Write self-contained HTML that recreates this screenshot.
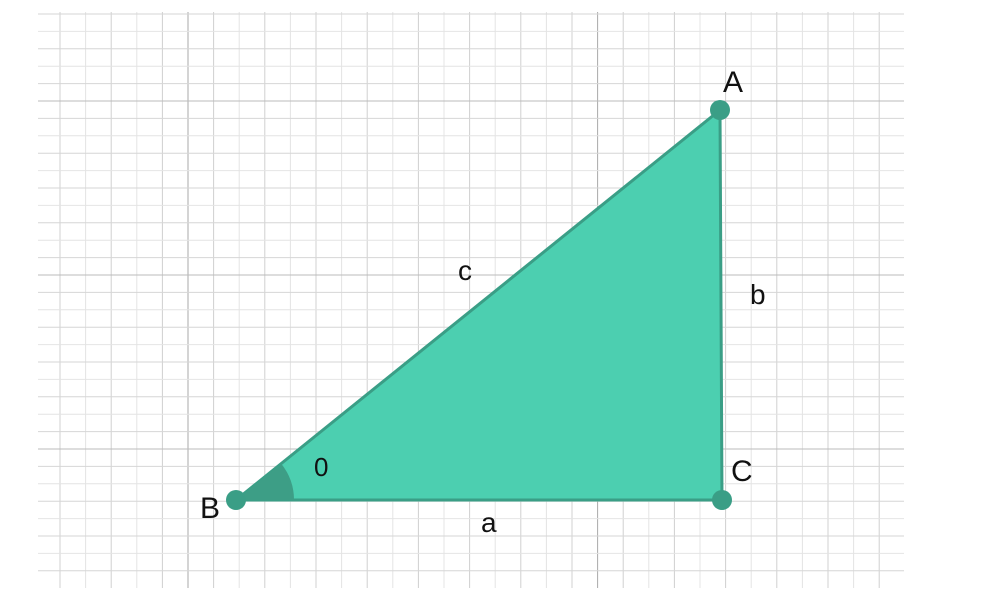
<!DOCTYPE html>
<html><head><meta charset="utf-8"><style>
body{margin:0;background:#fff;}
svg{display:block;font-family:"Liberation Sans",sans-serif;}
</style></head><body>
<svg id="chart" width="981" height="599" viewBox="0 0 981 599">
<g id="grid"></g>
<g id="shape"></g>
</svg>
<script>
const vertexNames = ["A","B","C"];
const vertexX = [720, 236, 722];
const vertexY = [110, 500, 500];
const sideNames = ["a","b","c"];
const NS="http://www.w3.org/2000/svg";
function mk(t,a,p){const e=document.createElementNS(NS,t);for(const k in a)e.setAttribute(k,a[k]);p.appendChild(e);return e;}
const grid=document.getElementById('grid');
for(let i=0;i<=33;i++){const x=60+i*25.6;if(x>904)break;
 const l=mk('line',{x1:x,y1:12,x2:x,y2:588,stroke:(i%16==5)?'#aaa':(i%2?'#e4e4e4':'#d0d0d0'),'stroke-width':1},grid);
 
 }
for(let j=0;j<=33;j++){const y=14+j*17.4;if(y>588)break;
 const l=mk('line',{x1:38,y1:y,x2:904,y2:y,stroke:(j%10==5)?'#bbb':(j%2?'#e4e4e4':'#d6d6d6'),'stroke-width':1},grid);
 
 }
const g=document.getElementById('shape');
const [Ax,Bx,Cx]=vertexX,[Ay,By,Cy]=vertexY;
const poly=mk('polygon',{points:`${Ax},${Ay} ${Bx},${By} ${Cx},${Cy}`,fill:'#4ccfb0',stroke:'#3a9e86','stroke-width':3,'stroke-linejoin':'round'},g);


// angle wedge at B
const r=58,ang=Math.atan2(Ay-By,Ax-Bx);
const w=mk('path',{d:`M${Bx},${By} L${Bx+r},${By} A${r},${r} 0 0 0 ${Bx+r*Math.cos(ang)},${By+r*Math.sin(ang)} Z`,fill:'#3d9e86'},g);


const lbl=[[vertexNames[0],Ax+3,Ay-18],[vertexNames[1],Bx-36,By+18],[vertexNames[2],Cx+9,Cy-19]];
for(let i=0;i<3;i++){
 const c=mk('circle',{cx:vertexX[i],cy:vertexY[i],r:10,fill:'#3a9e86'},g);
 
 
 const t=mk('text',{x:lbl[i][1],y:lbl[i][2],'font-size':30,fill:'#111'},g);t.textContent=lbl[i][0];
 
 
}
const sl=[[sideNames[0],(Bx+Cx)/2+2,532],[sideNames[1],750,304],[sideNames[2],458,280]];
for(const s of sl){const t=mk('text',{x:s[1],y:s[2],'font-size':28,fill:'#111'},g);t.textContent=s[0];
 
 }
const th=mk('text',{x:314,y:476,'font-size':26,fill:'#111'},g);th.textContent='0';


</script>
</body></html>
